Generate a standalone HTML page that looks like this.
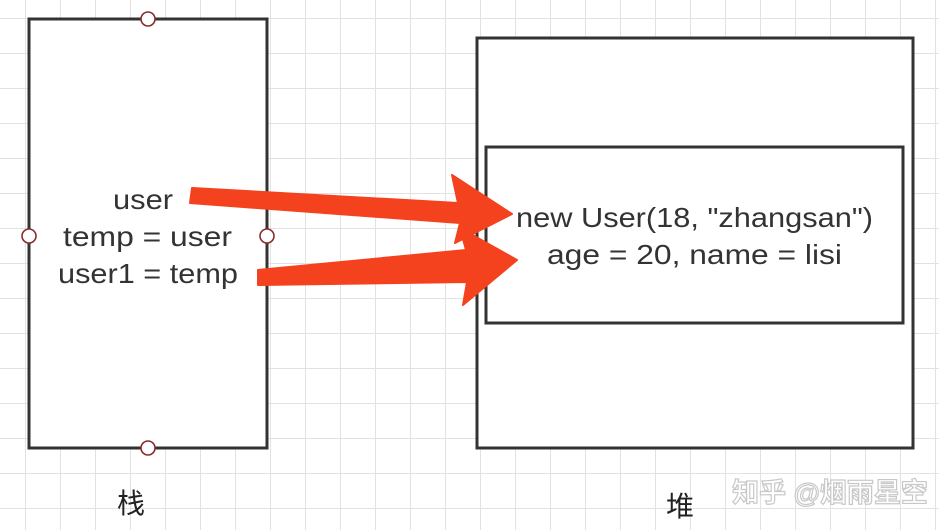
<!DOCTYPE html>
<html><head><meta charset="utf-8"><style>
body{margin:0;width:939px;height:530px;overflow:hidden;background:#fff;}
</style></head><body>
<svg width="939" height="530" xmlns="http://www.w3.org/2000/svg" style="position:absolute;left:0;top:0">
<defs>
<pattern id="g" x="25" y="18" width="35" height="35" patternUnits="userSpaceOnUse">
<path d="M0 0H35M0 0V35" stroke="#e2e2e2" stroke-width="2" fill="none"/>
</pattern>
</defs>
<rect width="939" height="530" fill="url(#g)"/>
<rect x="29" y="19" width="238" height="429" fill="#fff" stroke="#333" stroke-width="3"/>
<rect x="477" y="38" width="436" height="410" fill="#fff" stroke="#333" stroke-width="3"/>
<rect x="486" y="147" width="417" height="176" fill="#fff" stroke="#333" stroke-width="3"/>
<g fill="#fff" stroke="#8b2a2a" stroke-width="1.6">
<circle cx="148" cy="19" r="7"/><circle cx="148" cy="448" r="7"/>
<circle cx="29" cy="236" r="7"/><circle cx="267" cy="236" r="7"/>
</g>
<g font-family="Liberation Sans, sans-serif" font-size="28" fill="#333">
<text x="113" y="209" textLength="60" lengthAdjust="spacingAndGlyphs">user</text>
<text x="63" y="246" textLength="169" lengthAdjust="spacingAndGlyphs">temp = user</text>
<text x="58" y="283" textLength="180" lengthAdjust="spacingAndGlyphs">user1 = temp</text>
<text x="516" y="227" textLength="357" lengthAdjust="spacingAndGlyphs">new User(18, "zhangsan")</text>
<text x="547" y="264" textLength="295" lengthAdjust="spacingAndGlyphs">age = 20, name = lisi</text>
</g>
<g fill="#f4421e">
<path d="M192 188 L458 203 L452 175 L512 214 L455 243 L460 223 L190 203 Z" stroke="#f4421e" stroke-width="2" stroke-linejoin="round"/>
<path d="M258 270 L466 250 L460 228 L517 260 L463 305 L467 282 L258 285 Z" stroke="#f4421e" stroke-width="2" stroke-linejoin="round"/>
</g>
<g font-family="Liberation Sans, 'Noto Sans CJK SC', sans-serif" font-size="28" fill="#222" text-anchor="middle">
<text x="131" y="513">栈</text>
<text x="680" y="516">堆</text>
</g>
<text x="830" y="502" font-family="Liberation Sans, 'Noto Sans CJK SC', sans-serif" font-size="27" font-weight="bold" fill="#fff" stroke="#c8c8c8" stroke-width="1.2" text-anchor="middle">知乎 @烟雨星空</text>
</svg>
</body></html>
